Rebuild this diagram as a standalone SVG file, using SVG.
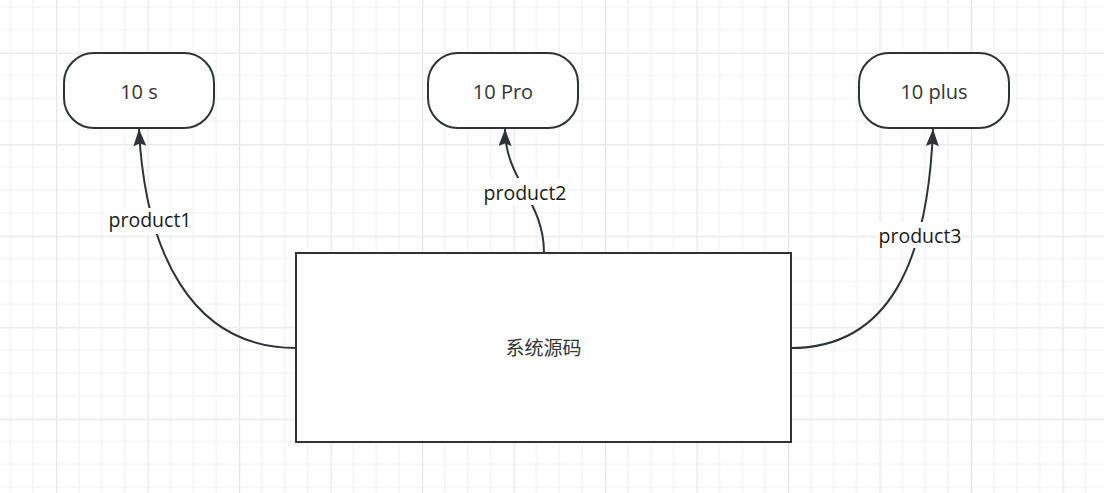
<svg xmlns="http://www.w3.org/2000/svg" width="1104" height="493" viewBox="0 0 1104 493">
<style>
.node{fill:#ffffff;stroke:#2f3338;stroke-width:2}
.ntext{font-family:"Open Sans","Liberation Sans",sans-serif;font-size:20px;fill:#333333;text-anchor:middle}
.ctext{font-family:"Noto Sans CJK SC","Open Sans",sans-serif;font-size:19px;fill:#333333;text-anchor:middle}
.edge{fill:none;stroke:#2f3338;stroke-width:2}
.lbg{fill:#ffffff}
.ltext{font-family:"Open Sans","Liberation Sans",sans-serif;font-size:19.5px;fill:#1a1a1a;text-anchor:middle}
</style>
<defs>
<pattern id="grid" patternUnits="userSpaceOnUse" x="56" y="52.7" width="91.5" height="91.5">
<path d="M22.875,0V91.5M45.75,0V91.5M68.625,0V91.5M0,22.875H91.5M0,45.75H91.5M0,68.625H91.5" stroke="#f1f1f1" stroke-width="1.2" fill="none"/>
<path d="M0.5,0V91.5M0,0.5H91.5" stroke="#e6e6e6" stroke-width="1.5" fill="none"/>
</pattern>
<marker id="arrow" viewBox="0 0 17 13" refX="17" refY="6.5" markerWidth="17" markerHeight="13" markerUnits="userSpaceOnUse" orient="auto">
<path d="M0,0 L17,6.5 L0,13 L2.5,6.5 Z" fill="#2f3338"/>
</marker>
</defs>
<rect width="1104" height="493" fill="#ffffff"/>
<rect width="1104" height="493" fill="url(#grid)"/>
<g id="connectors">
<path class="edge" d="M296,348 C190,348 145,250 139,129" marker-end="url(#arrow)"/>
<path class="edge" d="M544,253 C544,200 505,180 505,129" marker-end="url(#arrow)"/>
<path class="edge" d="M791,348 C890,348 928,260 933,129" marker-end="url(#arrow)"/>
<rect class="lbg" x="108" y="208" width="84" height="26"/>
<text class="ltext" x="150" y="227">product1</text>
<rect class="lbg" x="482" y="178" width="86" height="27"/>
<text class="ltext" x="525" y="200">product2</text>
<rect class="lbg" x="878" y="222" width="84" height="26"/>
<text class="ltext" x="920" y="243">product3</text>
</g>
<g id="node-10s">
<rect class="node" x="64" y="53" width="150" height="75" rx="30" ry="30"/>
<text class="ntext" x="139" y="99">10 s</text>
</g>
<g id="node-10pro">
<rect class="node" x="428" y="53" width="150" height="75" rx="30" ry="30"/>
<text class="ntext" x="503" y="99">10 Pro</text>
</g>
<g id="node-10plus">
<rect class="node" x="859" y="53" width="150" height="75" rx="30" ry="30"/>
<text class="ntext" x="934" y="99">10 plus</text>
</g>
<g id="node-source">
<rect class="node" x="296" y="253" width="495" height="189"/>
<text class="ctext" x="543.5" y="355">系统源码</text>
</g>
</svg>
